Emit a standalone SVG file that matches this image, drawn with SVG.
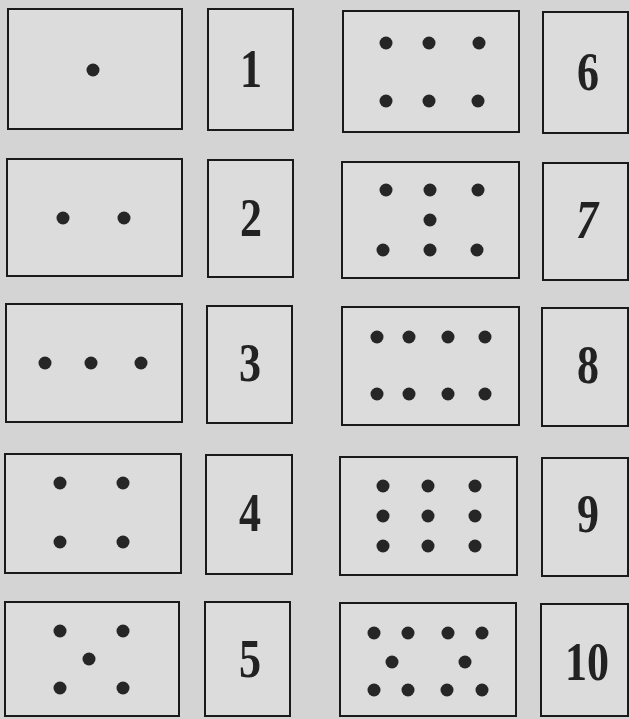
<svg xmlns="http://www.w3.org/2000/svg" width="629" height="719" viewBox="0 0 629 719">
<style>
.box{fill:#dcdcdc;stroke:#1a1a1a;stroke-width:2}
.dot{fill:#262626}
.num{font-family:"Liberation Serif","DejaVu Serif",serif;font-weight:bold;font-size:55px;fill:#222;text-anchor:middle}
</style>
<defs>
<circle id="d" r="6.5" class="dot"/>
</defs>
<rect width="629" height="719" fill="#d4d4d4"/>
<g id="dots1"><rect class="box" x="8" y="9" width="174" height="120"/><use href="#d" x="93" y="70"/></g>
<g id="num1"><rect class="box" x="208" y="9" width="85" height="121"/><text class="num" transform="translate(251,87) scale(0.8,1)">1</text></g>
<g id="dots2"><rect class="box" x="7" y="159" width="175" height="117"/><use href="#d" x="63" y="218"/><use href="#d" x="124" y="218"/></g>
<g id="num2"><rect class="box" x="208" y="160" width="85" height="117"/><text class="num" transform="translate(251,236) scale(0.8,1)">2</text></g>
<g id="dots3"><rect class="box" x="6" y="304" width="176" height="118"/><use href="#d" x="45" y="363"/><use href="#d" x="91" y="363"/><use href="#d" x="141" y="363"/></g>
<g id="num3"><rect class="box" x="207" y="306" width="85" height="117"/><text class="num" transform="translate(250,381) scale(0.8,1)">3</text></g>
<g id="dots4"><rect class="box" x="5" y="454" width="176" height="119"/><use href="#d" x="60" y="483"/><use href="#d" x="123" y="483"/><use href="#d" x="60" y="542"/><use href="#d" x="123" y="542"/></g>
<g id="num4"><rect class="box" x="206" y="455" width="86" height="119"/><text class="num" transform="translate(250,531) scale(0.8,1)">4</text></g>
<g id="dots5"><rect class="box" x="5" y="602" width="174" height="114"/><use href="#d" x="60" y="631"/><use href="#d" x="123" y="631"/><use href="#d" x="89" y="659"/><use href="#d" x="60" y="688"/><use href="#d" x="123" y="688"/></g>
<g id="num5"><rect class="box" x="205" y="602" width="85" height="114"/><text class="num" transform="translate(250,677) scale(0.8,1)">5</text></g>
<g id="dots6"><rect class="box" x="343" y="11" width="176" height="121"/><use href="#d" x="386" y="43"/><use href="#d" x="429" y="43"/><use href="#d" x="479" y="43"/><use href="#d" x="386" y="101"/><use href="#d" x="429" y="101"/><use href="#d" x="478" y="101"/></g>
<g id="num6"><rect class="box" x="543" y="12" width="85" height="121"/><text class="num" transform="translate(588,90) scale(0.8,1)">6</text></g>
<g id="dots7"><rect class="box" x="342" y="162" width="177" height="116"/><use href="#d" x="386" y="190"/><use href="#d" x="430" y="190"/><use href="#d" x="478" y="190"/><use href="#d" x="430" y="220"/><use href="#d" x="383" y="250"/><use href="#d" x="430" y="250"/><use href="#d" x="477" y="250"/></g>
<g id="num7"><rect class="box" x="543" y="163" width="85" height="117"/><text class="num" font-style="italic" transform="translate(587,238) scale(0.8,1)">7</text></g>
<g id="dots8"><rect class="box" x="342" y="307" width="177" height="118"/><use href="#d" x="377" y="337"/><use href="#d" x="409" y="337"/><use href="#d" x="448" y="337"/><use href="#d" x="485" y="337"/><use href="#d" x="377" y="394"/><use href="#d" x="409" y="394"/><use href="#d" x="448" y="394"/><use href="#d" x="485" y="394"/></g>
<g id="num8"><rect class="box" x="542" y="308" width="86" height="118"/><text class="num" transform="translate(588,383) scale(0.8,1)">8</text></g>
<g id="dots9"><rect class="box" x="340" y="457" width="177" height="118"/><use href="#d" x="383" y="486"/><use href="#d" x="428" y="486"/><use href="#d" x="475" y="486"/><use href="#d" x="383" y="516"/><use href="#d" x="428" y="516"/><use href="#d" x="475" y="516"/><use href="#d" x="383" y="546"/><use href="#d" x="428" y="546"/><use href="#d" x="475" y="546"/></g>
<g id="num9"><rect class="box" x="542" y="458" width="86" height="118"/><text class="num" transform="translate(588,532) scale(0.8,1)">9</text></g>
<g id="dots10"><rect class="box" x="340" y="603" width="176" height="113"/><use href="#d" x="374" y="633"/><use href="#d" x="408" y="633"/><use href="#d" x="448" y="633"/><use href="#d" x="482" y="633"/><use href="#d" x="392" y="662"/><use href="#d" x="465" y="662"/><use href="#d" x="374" y="690"/><use href="#d" x="408" y="690"/><use href="#d" x="447" y="690"/><use href="#d" x="482" y="690"/></g>
<g id="num10"><rect class="box" x="541" y="604" width="87" height="112"/><text class="num" transform="translate(587,680) scale(0.8,1)">10</text></g>
<g id="connectors"></g>
</svg>
